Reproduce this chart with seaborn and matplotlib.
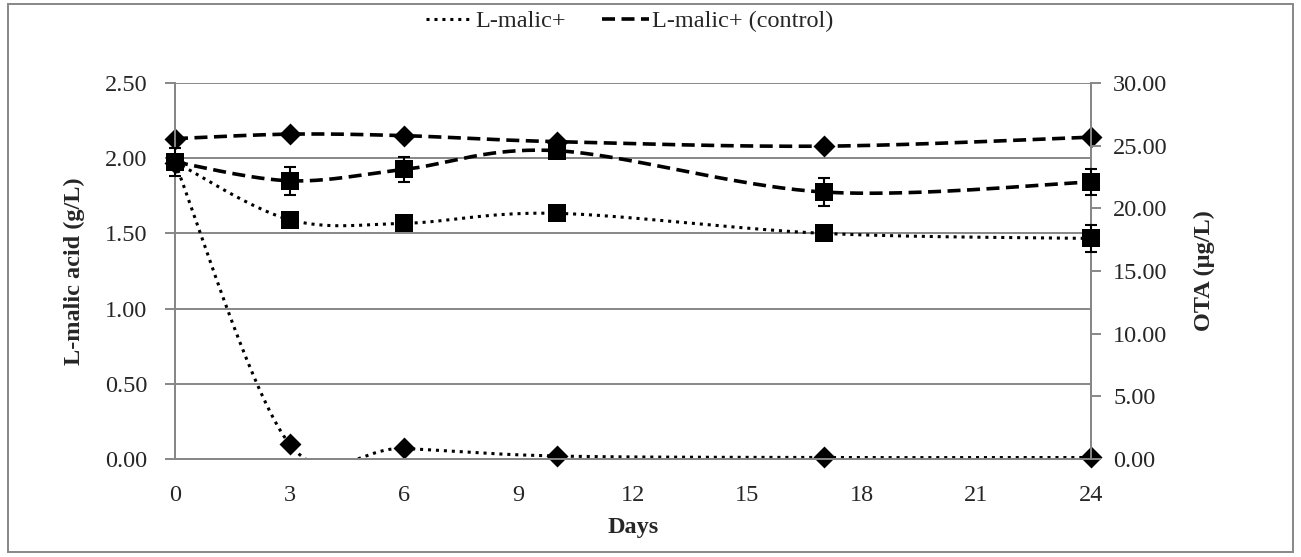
import numpy as np
import matplotlib
matplotlib.use("Agg")
import matplotlib.pyplot as plt
from matplotlib.lines import Line2D
from matplotlib.patches import Rectangle
import seaborn as sns

# Sampling days
days = [0, 3, 6, 10, 17, 24]

# L-malic acid (g/L), left axis
malic_plus = [1.97, 0.10, 0.07, 0.02, 0.01, 0.01]
malic_ctrl = [2.13, 2.16, 2.15, 2.11, 2.08, 2.14]

# OTA (µg/L) with standard deviations, right axis
ota_plus = [23.7, 19.1, 18.8, 19.6, 18.0, 17.6]
ota_plus_err = [0.4, 0.4, 0.4, 0.4, 0.4, 1.1]
ota_ctrl = [23.7, 22.2, 23.1, 24.6, 21.3, 22.1]
ota_ctrl_err = [1.1, 1.1, 1.0, 0.4, 1.1, 1.0]

x_ticks = [0, 3, 6, 9, 12, 15, 18, 21, 24]
left_ticks = [0.0, 0.5, 1.0, 1.5, 2.0, 2.5]
right_ticks = [0, 5, 10, 15, 20, 25, 30]

legend_labels = ["L-malic+", "L-malic+ (control)"]

sns.set_theme(style="white")
plt.rcParams["font.family"] = ["Liberation Serif", "DejaVu Serif"]

GRAY = "#878787"
FS = 17.5
DOTTED = (0, (1.0, 1.6))
DASHED = (0, (3.6, 1.8))

W, H = 1301, 557
fig = plt.figure(figsize=(W / 100, H / 100), dpi=100)
ax = fig.add_axes([175 / W, 1 - 459 / H, (1091 - 175) / W, (459 - 83) / H])
ax2 = ax.twinx()

ax.set_xlim(0, 24)
ax.set_ylim(0, 2.5)
ax2.set_ylim(0, 30)


def smooth_curve(axis, xs, ys, n=60):
    """Excel-like smoothed line: Catmull-Rom Bezier in display space."""
    pts = axis.transData.transform(np.column_stack([xs, ys]).astype(float))
    out = [pts[0]]
    t = np.linspace(0, 1, n)[1:, None]
    for i in range(len(pts) - 1):
        p0 = pts[i - 1] if i > 0 else pts[i]
        p1 = pts[i]
        p2 = pts[i + 1]
        p3 = pts[i + 2] if i + 2 < len(pts) else pts[i + 1]
        c1 = p1 + (p2 - p0) / 6.0
        c2 = p2 - (p3 - p1) / 6.0
        seg = ((1 - t) ** 3) * p1 + 3 * ((1 - t) ** 2) * t * c1 \
            + 3 * (1 - t) * t ** 2 * c2 + t ** 3 * p2
        out.extend(seg)
    data = axis.transData.inverted().transform(np.array(out))
    return data[:, 0], data[:, 1]


series = [
    (ax, malic_plus, None, DOTTED, 2.2, "D", 125),
    (ax, malic_ctrl, None, DASHED, 2.6, "D", 125),
    (ax2, ota_plus, ota_plus_err, DOTTED, 2.2, "s", 165),
    (ax2, ota_ctrl, ota_ctrl_err, DASHED, 2.6, "s", 165),
]

for axis, vals, err, ls, lw, mk, size in series:
    sx, sy = smooth_curve(axis, days, vals)
    sns.lineplot(x=sx, y=sy, ax=axis, sort=False, estimator=None,
                 color="black", linewidth=lw, linestyle=ls, zorder=3)
    if err is not None:
        axis.errorbar(days, vals, yerr=err, fmt="none", ecolor="black",
                      elinewidth=1.5, capsize=4.3, capthick=1.5, zorder=4,
                      clip_on=False)
    sns.scatterplot(x=days, y=vals, ax=axis, marker=mk, s=size,
                    color="black", linewidth=0, zorder=5, clip_on=False)

# Left axis styling
ax.set_yticks(left_ticks)
ax.set_yticklabels([f"{v:.2f}" for v in left_ticks], fontsize=FS)
ax.set_xticks(x_ticks)
ax.set_xticklabels([str(v) for v in x_ticks], fontsize=FS)
ax.grid(axis="y", color=GRAY, linewidth=1.4)
ax.grid(axis="x", visible=False)
ax.tick_params(axis="y", which="both", left=True, length=7, width=1.4,
               color=GRAY, pad=13, direction="out")
ax.tick_params(axis="x", bottom=False, length=0, pad=19)
ax.set_xlabel("Days", fontsize=FS, fontweight="bold", labelpad=8)
ax.set_ylabel("L-malic acid (g/L)", fontsize=FS, fontweight="bold", labelpad=14)

# Right axis styling
ax2.set_yticks(right_ticks)
ax2.set_yticklabels([f"{v:.2f}" for v in right_ticks], fontsize=FS)
ax2.tick_params(axis="y", right=True, length=7, width=1.4, color=GRAY,
                pad=9, direction="out")
ax2.grid(False)
ax2.set_ylabel("OTA (µg/L)", fontsize=FS, fontweight="bold", labelpad=19)
ax2.set_xlabel("")

for a in (ax, ax2):
    for name, spine in a.spines.items():
        spine.set_color(GRAY)
        spine.set_linewidth(1.4)
    a.spines["top"].set_visible(False)

# Legend (line styles only)
handles = [
    Line2D([], [], color="black", linewidth=2.2, linestyle=DOTTED),
    Line2D([], [], color="black", linewidth=2.6, linestyle=DASHED),
]
fig.legend(handles, legend_labels, loc="center", bbox_to_anchor=(0.484, 0.962),
           ncol=2, frameon=False, fontsize=FS, handlelength=1.9,
           handletextpad=0.15, columnspacing=1.5)

# Chart border
fig.patches.append(Rectangle((8 / W, 1 - 552 / H), (1293 - 8) / W, (552 - 4) / H,
                             transform=fig.transFigure, fill=False,
                             edgecolor=GRAY, linewidth=1.4))

fig.savefig("out.png", dpi=100)
